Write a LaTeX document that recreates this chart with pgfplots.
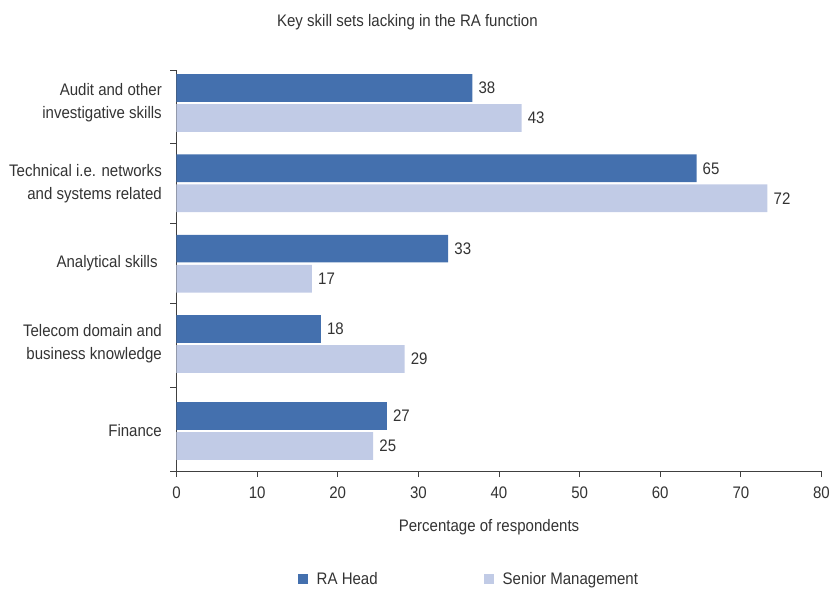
\documentclass[border=0pt]{standalone}
\usepackage{fontspec}
\setmainfont{Liberation Sans}[FakeStretch=0.9]
\usepackage{pgfplots}
\pgfplotsset{compat=1.18}
\usepackage{pgfplotstable}
\definecolor{rahead}{HTML}{4470AE}
\definecolor{senior}{HTML}{C1CBE6}
\definecolor{txt}{HTML}{333333}
\definecolor{axc}{HTML}{404040}

\pgfplotstableread{
y v lab
0 36.7 38
1 64.5 65
2 33.7 33
3 17.9 18
4.083 26.1 27
}\tabRA
\pgfplotstableread{
y v lab
0 42.8 43
1 73.3 72
2 16.8 17
3 28.3 29
4.083 24.4 25
}\tabSM

\newcommand{\fs}{\fontsize{16.7}{23}\selectfont}

\begin{document}
\begin{tikzpicture}[font=\fs, text=txt]
\useasboundingbox (-176.5pt,-119pt) rectangle (653.5pt,471pt);
\begin{axis}[
  scale only axis, width=645pt, height=401pt,
  xbar, y dir=reverse,
  xmin=0, xmax=80, ymin=-0.411, ymax=4.582,
  axis x line*=bottom, axis y line*=left,
  axis line style={axc, -, line width=0.8pt},
  every tick/.style={axc, line width=0.8pt},
  tick align=outside, major tick length=6pt,
  xtick={0,10,...,80},
  ytick={-0.411,0.498,1.494,2.49,3.535,4.582},
  yticklabels={},
  extra y ticks={0,1,2,3,4.083},
  extra y tick labels={{Audit and other\\investigative skills},{Technical i.e. networks\\and systems related},{Analytical skills\ },{Telecom domain and\\business knowledge},{Finance}},
  extra y tick style={major tick length=0pt, yticklabel style={align=right, anchor=east, inner sep=0pt, xshift=-14.5pt}},
  /pgf/number format/assume math mode=true,
  tick label style={font=\fs, text=txt},
  xticklabel style={anchor=base, yshift=-21.5pt},
  bar width=0.345,
  title={Key skill sets lacking in the RA function},
  title style={at={(0.358,1.093)}, anchor=base, font=\fs, text=txt},
  xlabel={Percentage of respondents},
  xlabel style={at={(0.4845,-0.152)}, anchor=base, font=\fs, text=txt},
  nodes near coords, point meta=explicit symbolic,
  every node near coord/.append style={anchor=west, inner sep=0pt, xshift=6pt, font=\fs, text=txt},
  legend columns=2,
  legend style={draw=none, fill=none, at={(0.183,-0.27)}, anchor=west, font=\fs, text=txt,
    /tikz/every odd column/.append style={column sep=7pt},
    /tikz/every even column/.append style={column sep=104pt}},
  legend image code/.code={\fill[#1] (0pt,-5pt) rectangle (10pt,5pt);},
]
\addplot[draw=none, fill=rahead, bar shift=-0.187] table[x=v, y=y, meta=lab] {\tabRA};
\addlegendentry{RA Head}
\addplot[draw=none, fill=senior, bar shift=0.187] table[x=v, y=y, meta=lab] {\tabSM};
\addlegendentry{Senior Management}
\end{axis}
\end{tikzpicture}
\end{document}
